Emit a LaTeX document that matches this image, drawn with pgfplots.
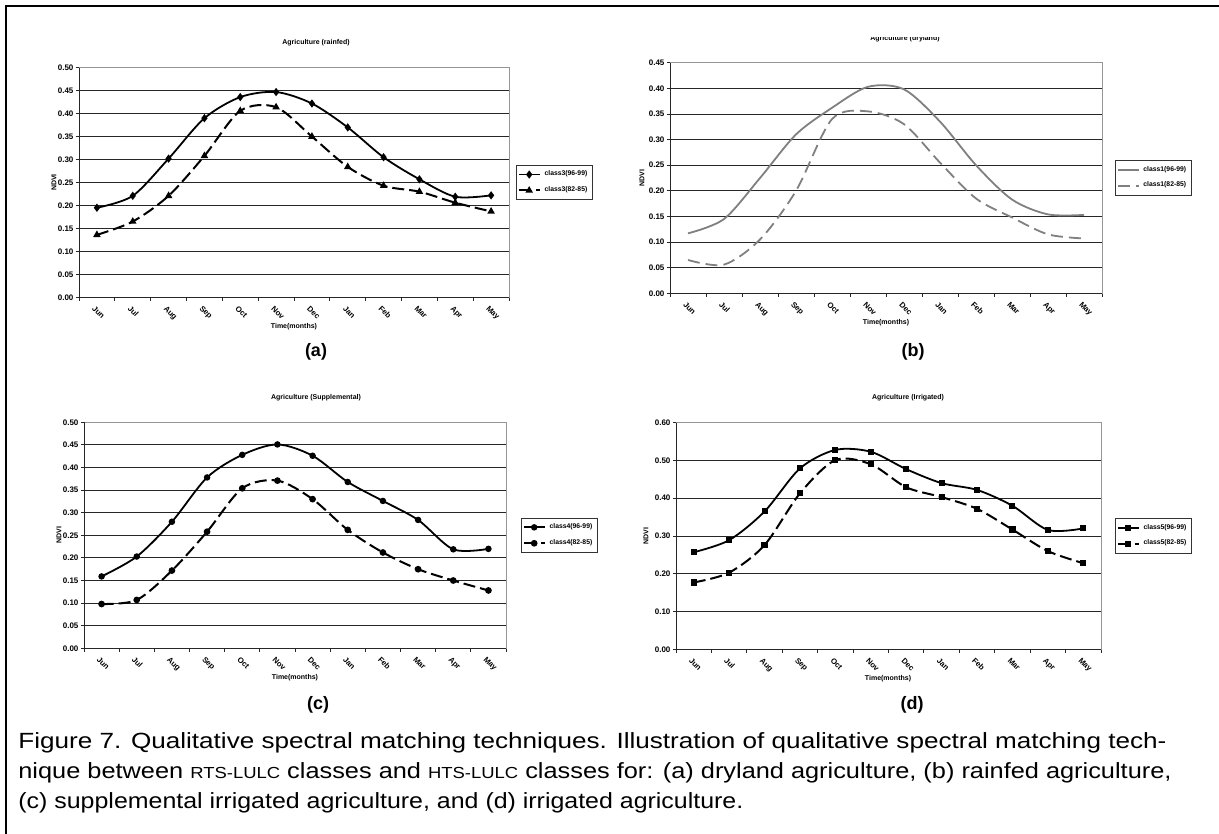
\documentclass[border=0pt]{standalone}
\usepackage{fontspec}
\setmainfont{Liberation Sans}
\usepackage{graphicx}
\usepackage{pgfplots}
\pgfplotsset{compat=1.18}

\definecolor{exgray}{RGB}{128,128,128}
\definecolor{bordergray}{RGB}{150,150,150}

\pgfplotsset{
  excel/.style={
    scale only axis,
    axis line style={bordergray, line width=0.5pt},
    tick align=outside,
    xtick pos=bottom, ytick pos=left,
    xmin=-0.5, xmax=11.5,
    ymin=0,
    ymajorgrids,
    grid style={black!85, line width=0.45pt},
    major tick length=1.6pt,
    minor tick length=1.6pt,
    tick style={black!85, line width=0.45pt},
    xtick={0,1,2,3,4,5,6,7,8,9,10,11},
    xticklabels={Jun,Jul,Aug,Sep,Oct,Nov,Dec,Jan,Feb,Mar,Apr,May},
    every major x tick/.append style={draw=none},
    minor xtick={-0.5,0.5,1.5,2.5,3.5,4.5,5.5,6.5,7.5,8.5,9.5,10.5,11.5},
    xticklabel style={rotate=-45, anchor=north west, inner sep=0.5pt,
        font=\fontsize{3.9}{4}\selectfont\bfseries, yshift=-1.5pt, xshift=0.5pt},
    yticklabel style={font=\fontsize{4}{4}\selectfont\bfseries, inner sep=1pt,
      /pgf/number format/fixed, /pgf/number format/fixed zerofill,
      /pgf/number format/precision=2},
    /pgf/number format/assume math mode=true,
    legend style={draw=black!80, line width=0.4pt, font=\fontsize{3.4}{4.4}\selectfont\bfseries,
      at={(1,0.5)}, anchor=west, xshift=3.5pt, inner sep=0.7pt,
      cells={anchor=west}},
    legend image code/.code={\draw[mark repeat=2,mark phase=2] plot coordinates {(0pt,0pt) (5.2pt,0pt) (10.4pt,0pt)};},
  },
  solidA/.style={black, line width=0.9pt, smooth},
  dashA/.style={black, line width=1pt, smooth, dash pattern=on 6pt off 2.5pt},
}

\newcommand{\leftbottom}{\draw[black!85, line width=0.5pt] (rel axis cs:0,1) -- (rel axis cs:0,0) -- (rel axis cs:1,0);}

\begin{document}
\begin{tikzpicture}
\useasboundingbox (0,0) rectangle (609.5pt,-417pt);
\fill[white] (0,0) rectangle (609.5pt,-417pt);
\draw[line width=1pt] (3pt,-417pt) -- (3pt,-3pt) -- (609.5pt,-3pt);

% ---------------- (a) rainfed
\begin{axis}[excel, at={(39.5pt,-148.65pt)}, anchor=south west,
  width=215pt, height=114.8pt, ymax=0.5,
  ytick={0,0.05,0.1,0.15,0.2,0.25,0.3,0.35,0.4,0.45,0.5}]
\addplot[solidA, mark=diamond*, mark size=1.35pt] coordinates {
(0,0.195)(1,0.221)(2,0.302)(3,0.390)(4,0.436)(5,0.447)(6,0.422)(7,0.370)(8,0.305)(9,0.257)(10,0.219)(11,0.222)};
\addplot[dashA, mark=triangle*, mark size=1.2pt, mark options={solid}] coordinates {
(0,0.136)(1,0.165)(2,0.221)(3,0.308)(4,0.406)(5,0.414)(6,0.350)(7,0.284)(8,0.243)(9,0.230)(10,0.206)(11,0.187)};
\leftbottom
\legend{class3(96-99),class3(82-85)}
\end{axis}

% ---------------- (b) dryland
\begin{axis}[excel, at={(335pt,-146.65pt)}, anchor=south west,
  width=216pt, height=115.3pt, ymax=0.45,
  legend style={xshift=3pt},
  ytick={0,0.05,0.1,0.15,0.2,0.25,0.3,0.35,0.4,0.45}]
\addplot[exgray, line width=0.9pt, smooth] coordinates {
(0,0.117)(1,0.145)(2,0.225)(3,0.310)(4,0.362)(5,0.403)(6,0.398)(7,0.335)(8,0.250)(9,0.183)(10,0.154)(11,0.153)};
\addplot[exgray, line width=0.9pt, smooth, dash pattern=on 6pt off 3pt] coordinates {
(0,0.065)(1,0.056)(2,0.105)(3,0.200)(4,0.340)(5,0.355)(6,0.330)(7,0.255)(8,0.185)(9,0.148)(10,0.115)(11,0.107)};
\leftbottom
\legend{class1(96-99),class1(82-85)}
\end{axis}

% ---------------- (c) supplemental
\begin{axis}[excel, at={(42pt,-324.15pt)}, anchor=south west,
  width=211pt, height=113pt, ymax=0.5,
  legend style={xshift=4pt},
  ytick={0,0.05,0.1,0.15,0.2,0.25,0.3,0.35,0.4,0.45,0.5}]
\addplot[solidA, mark=*, mark size=1.15pt] coordinates {
(0,0.159)(1,0.203)(2,0.280)(3,0.378)(4,0.428)(5,0.451)(6,0.426)(7,0.368)(8,0.326)(9,0.284)(10,0.219)(11,0.220)};
\addplot[dashA, mark=*, mark size=1.15pt, mark options={solid}] coordinates {
(0,0.098)(1,0.107)(2,0.172)(3,0.258)(4,0.354)(5,0.371)(6,0.330)(7,0.262)(8,0.212)(9,0.175)(10,0.150)(11,0.128)};
\leftbottom
\legend{class4(96-99),class4(82-85)}
\end{axis}

% ---------------- (d) irrigated
\begin{axis}[excel, at={(338pt,-324.65pt)}, anchor=south west,
  width=212.5pt, height=113.3pt, ymax=0.6,
  legend style={xshift=3.5pt},
  ytick={0,0.1,0.2,0.3,0.4,0.5,0.6}]
\addplot[solidA, mark=square*, mark size=1.05pt] coordinates {
(0,0.257)(1,0.289)(2,0.365)(3,0.479)(4,0.528)(5,0.523)(6,0.477)(7,0.440)(8,0.422)(9,0.380)(10,0.316)(11,0.320)};
\addplot[dashA, mark=square*, mark size=1.05pt, mark options={solid}] coordinates {
(0,0.177)(1,0.203)(2,0.276)(3,0.413)(4,0.501)(5,0.490)(6,0.429)(7,0.403)(8,0.372)(9,0.317)(10,0.260)(11,0.228)};
\leftbottom
\legend{class5(96-99),class5(82-85)}
\end{axis}

% ---------------- texts (pixel coordinates)
\begin{scope}[x=0.5pt,y=-0.5pt]
\tikzset{ttl/.style={font=\fontsize{3.5}{4}\selectfont\bfseries, inner sep=0},
         lab/.style={font=\fontsize{3.5}{4}\selectfont\bfseries, inner sep=0},
         sub/.style={font=\fontsize{9}{10}\selectfont\bfseries, inner sep=0}}
\node[ttl] at (316,42.7) {Agriculture (rainfed)};
\begin{scope}
\clip (600,37.2) rectangle (1219,60);
\node[ttl, anchor=base] at (905,40.5) {Agriculture (dryland)};
\end{scope}
\node[ttl] at (316,398) {Agriculture (Supplemental)};
\node[ttl] at (908,398) {Agriculture (Irrigated)};

\node[lab] at (294,327) {Time(months)};
\node[lab] at (886,323) {Time(months)};
\node[lab] at (295,678) {Time(months)};
\node[lab] at (888,679) {Time(months)};

\node[lab, rotate=90] at (54,182.5) {NDVI};
\node[lab, rotate=90] at (642,178) {NDVI};
\node[lab, rotate=90] at (59,535) {NDVI};
\node[lab, rotate=90] at (646,536) {NDVI};

\node[sub] at (316,352) {(a)};
\node[sub] at (913,352) {(b)};
\node[sub] at (318,705) {(c)};
\node[sub] at (912,705) {(d)};

\tikzset{captxt/.style={anchor=base west, inner sep=0, font=\fontsize{11}{13}\selectfont}}
\node[captxt] at (18,748) {\resizebox{574pt}{\height}{Figure 7. Qualitative spectral matching techniques. Illustration of qualitative spectral matching tech-}};
\node[captxt] at (18,778) {\resizebox{576.5pt}{\height}{nique between {\fontsize{8}{8}\selectfont RTS-LULC} classes and {\fontsize{8}{8}\selectfont HTS-LULC} classes for: (a) dryland agriculture, (b) rainfed agriculture,}};
\node[captxt] at (18,808) {\resizebox{362.5pt}{\height}{(c) supplemental irrigated agriculture, and (d) irrigated agriculture.}};
\end{scope}
\end{tikzpicture}
\end{document}
